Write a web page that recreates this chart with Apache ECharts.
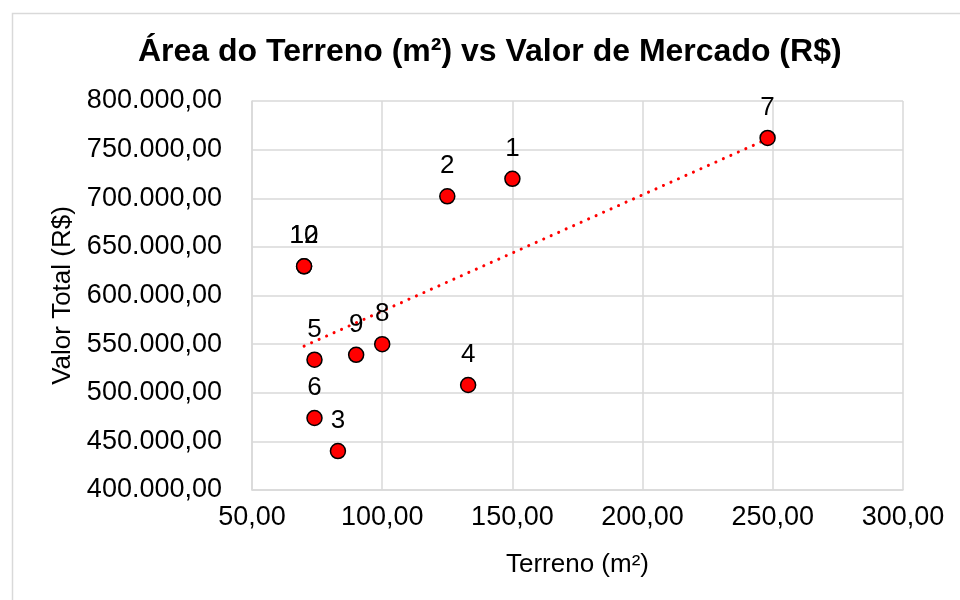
<!DOCTYPE html>
<html>
<head>
<meta charset="utf-8">
<script src="https://cdn.jsdelivr.net/npm/echarts@6/dist/echarts.min.js"></script>
<style>html,body{margin:0;padding:0;background:#fff}#c{width:960px;height:600px}</style>
</head>
<body>
<div id="c"></div>
<script>
// Point labels, land area (m²) and total value (R$)
var pointNames = ["1", "2", "3", "4", "5", "6", "7", "8", "9", "10", "12"];
var areaM2     = [150, 125, 83, 133, 74, 74, 248, 100, 90, 70, 70];
var valueRS    = [720000, 702000, 440000, 508000, 534000, 474000, 762000, 550000, 539000, 630000, 630000];
// Linear trendline endpoints
var trendX = [70, 248];
var trendY = [548000, 761000];

function fmtBR(v) {
  return Number(v).toLocaleString('pt-BR', {minimumFractionDigits: 2, maximumFractionDigits: 2});
}

var scatterData = areaM2.map(function (x, i) { return {name: pointNames[i], value: [x, valueRS[i]]}; });
var trendData = trendX.map(function (x, i) { return [x, trendY[i]]; });

var FONT = 'Liberation Sans, Arial, sans-serif';
var chart = echarts.init(document.getElementById('c'), null, {renderer: 'canvas'});
chart.setOption({
  animation: false,
  backgroundColor: '#ffffff',
  textStyle: {fontFamily: FONT},
  graphic: [{
    type: 'rect', left: 10, top: 11, silent: true,
    shape: {width: 970, height: 610},
    style: {fill: 'none', stroke: '#d9d9d9', lineWidth: 1.5}
  }],
  title: {
    text: 'Área do Terreno (m²) vs Valor de Mercado (R$)',
    left: 138, top: 36, padding: 0,
    textStyle: {fontFamily: FONT, fontSize: 32, fontWeight: 'bold', color: '#000'}
  },
  grid: {left: 252, right: 57, top: 101, bottom: 110, containLabel: false},
  xAxis: {
    type: 'value', min: 50, max: 300, interval: 50,
    name: 'Terreno (m²)', nameLocation: 'middle', nameGap: 62,
    nameTextStyle: {fontFamily: FONT, fontSize: 26, color: '#000'},
    axisLine: {show: true, lineStyle: {color: '#d9d9d9', width: 1.5}},
    axisTick: {show: false},
    axisLabel: {fontFamily: FONT, fontSize: 27, color: '#000', margin: 14, formatter: fmtBR},
    splitLine: {show: true, lineStyle: {color: '#d9d9d9', width: 1.5}}
  },
  yAxis: {
    type: 'value', min: 400000, max: 800000, interval: 50000,
    name: 'Valor Total (R$)', nameLocation: 'middle', nameGap: 176,
    nameTextStyle: {fontFamily: FONT, fontSize: 26, color: '#000'},
    axisLine: {show: true, lineStyle: {color: '#d9d9d9', width: 1.5}},
    axisTick: {show: false},
    axisLabel: {fontFamily: FONT, fontSize: 27, color: '#000', margin: 30, formatter: fmtBR},
    splitLine: {show: true, lineStyle: {color: '#d9d9d9', width: 1.5}}
  },
  series: [
    {
      type: 'line', data: trendData, symbol: 'none', silent: true, z: 1,
      lineStyle: {color: '#ff0000', width: 3, type: [0.1, 8.1], cap: 'round'}
    },
    {
      type: 'scatter', data: scatterData, symbol: 'circle', symbolSize: 15, z: 3,
      itemStyle: {color: '#ff0000', borderColor: '#000', borderWidth: 1.5, opacity: 1},
      label: {
        show: true, position: 'top', distance: 9,
        fontFamily: FONT, fontSize: 26, color: '#000',
        formatter: function (p) { return p.name; }
      },
      labelLayout: {hideOverlap: false}
    }
  ]
});
</script>
</body>
</html>
